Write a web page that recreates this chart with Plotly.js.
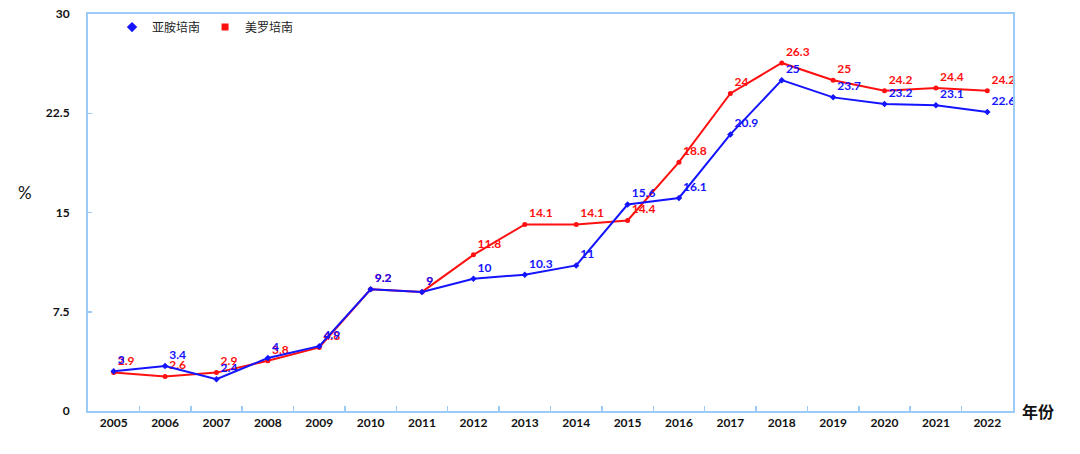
<!DOCTYPE html>
<html>
<head>
<meta charset="utf-8">
<script src="https://cdn.plot.ly/plotly-3.0.1.min.js"></script>
<style>html,body{margin:0;padding:0;background:#fff;}#chart{width:1080px;height:454px;}</style>
</head>
<body>
<div id="chart"></div>
<script>
const years = ['2005','2006','2007','2008','2009','2010','2011','2012','2013','2014','2015','2016','2017','2018','2019','2020','2021','2022'];
const imipenem = [3, 3.4, 2.4, 4, 4.9, 9.2, 9, 10, 10.3, 11, 15.6, 16.1, 20.9, 25, 23.7, 23.2, 23.1, 22.6];
const meropenem = [2.9, 2.6, 2.9, 3.8, 4.8, 9.2, 9, 11.8, 14.1, 14.1, 14.4, 18.8, 24, 26.3, 25, 24.2, 24.4, 24.2];
const seriesNames = ['亚胺培南', '美罗培南'];
const yTicks = [0, 7.5, 15, 22.5, 30];

const FONT = 'Lato, "Liberation Sans", "Noto Sans CJK SC", sans-serif';
const BLUE = '#1414ff';
const RED = '#ff1010';
const AXIS = '#9ccbf7';

const traceRed = {
  x: years, y: meropenem, name: seriesNames[1], type: 'scatter', mode: 'lines+markers+text',
  showlegend: false,
  line: {color: RED, width: 2},
  marker: {color: RED, size: 5, symbol: 'circle'},
  text: meropenem.map(String), textposition: 'top right',
  textfont: {family: FONT, size: 12, color: RED, weight: 'bold'},
  cliponaxis: false
};
const traceBlue = {
  x: years, y: imipenem, name: seriesNames[0], type: 'scatter', mode: 'lines+markers+text',
  showlegend: false,
  line: {color: BLUE, width: 2},
  marker: {color: BLUE, size: 5, symbol: 'diamond'},
  text: imipenem.map(String), textposition: 'top right',
  textfont: {family: FONT, size: 12, color: BLUE, weight: 'bold'},
  cliponaxis: false
};
const legBlue = {x: [years[0]], y: [null], name: seriesNames[0], type: 'scatter', mode: 'markers',
  marker: {color: BLUE, size: 8, symbol: 'diamond'}, showlegend: true};
const legRed = {x: [years[0]], y: [null], name: seriesNames[1], type: 'scatter', mode: 'markers',
  marker: {color: RED, size: 7, symbol: 'square'}, showlegend: true};

const layout = {
  width: 1080, height: 454,
  margin: {l: 88, r: 67, t: 14, b: 43},
  paper_bgcolor: '#fff', plot_bgcolor: '#fff',
  font: {family: FONT, color: '#111'},
  showlegend: true,
  legend: {orientation: 'h', x: 0.026, y: 0.967, xanchor: 'left', yanchor: 'middle',
           font: {family: '"Noto Sans CJK SC", sans-serif', size: 12, color: '#222'}, traceorder: 'normal',
           bgcolor: 'rgba(0,0,0,0)', itemwidth: 30, itemsizing: 'trace'},
  xaxis: {
    type: 'category', showgrid: false, zeroline: false,
    showline: true, linecolor: AXIS, linewidth: 2, mirror: true,
    ticks: 'inside', tickson: 'boundaries', ticklen: 5, tickcolor: AXIS, tickwidth: 1.5,
    tickfont: {family: FONT, size: 12, color: '#111', weight: 'bold'},
    range: [-0.5, 17.5]
  },
  yaxis: {
    range: [0, 30], tickvals: yTicks, ticktext: yTicks.map(String),
    showgrid: false, zeroline: false,
    showline: true, linecolor: AXIS, linewidth: 2, mirror: true,
    ticks: 'inside', ticklen: 4, tickcolor: AXIS, tickwidth: 1.5,
    tickfont: {family: FONT, size: 12, color: '#111', weight: 'bold'},
    ticklabelstandoff: 14
  },
  annotations: [
    {text: '%', xref: 'paper', yref: 'paper', x: -0.078, y: 0.55, showarrow: false,
     font: {family: FONT, size: 17, color: '#111'}},
    {text: '年份', xref: 'paper', yref: 'paper', x: 1.008, y: 0.0, xanchor: 'left', yanchor: 'middle', showarrow: false,
     font: {family: '"Noto Sans CJK SC", sans-serif', size: 16, color: '#111', weight: 'bold'}}
  ]
};

Plotly.newPlot('chart', [traceRed, traceBlue, legBlue, legRed], layout, {displayModeBar: false, staticPlot: true});
</script>
</body>
</html>
